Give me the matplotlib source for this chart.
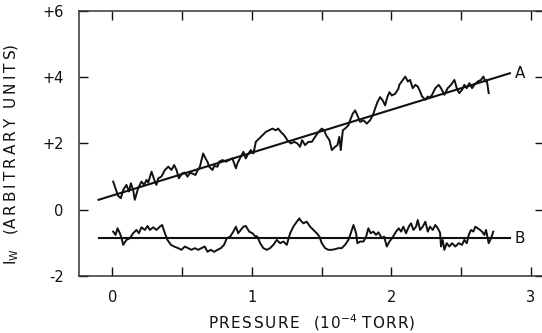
import numpy as np
import matplotlib
matplotlib.use("Agg")
import matplotlib.pyplot as plt

# trace A (pressure, signal)
a_x = [0.005, 0.04, 0.06, 0.077, 0.10, 0.118, 0.132, 0.148, 0.16, 0.184, 0.208, 0.227,
       0.244, 0.256, 0.28, 0.30, 0.315, 0.328, 0.351, 0.376, 0.40, 0.423, 0.442, 0.459,
       0.476, 0.50, 0.519, 0.538, 0.557, 0.578, 0.595, 0.609, 0.627, 0.65, 0.667, 0.681,
       0.693, 0.717, 0.729, 0.753, 0.765, 0.789, 0.813, 0.837, 0.86, 0.885, 0.896, 0.92,
       0.939, 0.956, 0.968, 0.992, 1.011, 1.028, 1.052, 1.075, 1.10, 1.123, 1.147, 1.171,
       1.188, 1.207, 1.231, 1.254, 1.279, 1.303, 1.326, 1.345, 1.36, 1.381, 1.405, 1.43,
       1.453, 1.477, 1.501, 1.518, 1.532, 1.556, 1.573, 1.596, 1.613, 1.627, 1.637, 1.652,
       1.668, 1.692, 1.704, 1.723, 1.74, 1.756, 1.776, 1.80, 1.824, 1.847, 1.867, 1.883,
       1.90, 1.919, 1.938, 1.955, 1.971, 1.986, 2.003, 2.027, 2.05, 2.057, 2.082, 2.10,
       2.118, 2.134, 2.153, 2.172, 2.189, 2.206, 2.22, 2.244, 2.261, 2.272, 2.292, 2.315,
       2.34, 2.356, 2.38, 2.404, 2.428, 2.452, 2.469, 2.487, 2.507, 2.523, 2.541, 2.559,
       2.579, 2.595, 2.619, 2.643, 2.66, 2.674, 2.684, 2.698]
a_y = [0.85, 0.42, 0.35, 0.60, 0.75, 0.55, 0.80, 0.60, 0.30, 0.65, 0.85, 0.75,
       0.90, 0.82, 1.15, 0.90, 0.75, 0.95, 1.00, 1.20, 1.30, 1.20, 1.35, 1.20,
       0.95, 1.10, 1.12, 1.00, 1.12, 1.08, 1.05, 1.18, 1.30, 1.70, 1.55, 1.45,
       1.30, 1.20, 1.32, 1.30, 1.45, 1.50, 1.45, 1.50, 1.55, 1.25, 1.40, 1.60,
       1.75, 1.55, 1.65, 1.80, 1.70, 2.05, 2.15, 2.25, 2.35, 2.40, 2.45, 2.40,
       2.45, 2.35, 2.25, 2.10, 2.00, 2.05, 2.00, 1.90, 2.10, 1.95, 2.05, 2.05,
       2.20, 2.35, 2.45, 2.40, 2.25, 2.10, 1.80, 1.90, 1.95, 2.20, 1.80, 2.40,
       2.45, 2.55, 2.70, 2.90, 3.00, 2.85, 2.65, 2.70, 2.60, 2.70, 2.85, 3.05,
       3.25, 3.40, 3.30, 3.15, 3.40, 3.55, 3.45, 3.50, 3.65, 3.77, 3.92, 4.02,
       3.87, 3.92, 3.67, 3.77, 3.72, 3.57, 3.42, 3.32, 3.42, 3.37, 3.47, 3.67,
       3.77, 3.67, 3.47, 3.67, 3.77, 3.92, 3.67, 3.52, 3.62, 3.77, 3.67, 3.82,
       3.67, 3.77, 3.87, 3.92, 4.02, 3.87, 3.92, 3.52]

# trace B
b_x = [0.005, 0.022, 0.036, 0.053, 0.065, 0.077, 0.10, 0.125, 0.148, 0.172, 0.189, 0.208,
       0.232, 0.251, 0.268, 0.292, 0.315, 0.34, 0.356, 0.376, 0.394, 0.419, 0.442, 0.471,
       0.495, 0.519, 0.543, 0.566, 0.591, 0.614, 0.638, 0.662, 0.681, 0.705, 0.729, 0.753,
       0.777, 0.80, 0.82, 0.844, 0.867, 0.885, 0.901, 0.92, 0.939, 0.956, 0.98, 1.004,
       1.021, 1.039, 1.059, 1.082, 1.107, 1.13, 1.154, 1.178, 1.202, 1.226, 1.25, 1.274,
       1.297, 1.322, 1.34, 1.346, 1.369, 1.393, 1.417, 1.441, 1.465, 1.484, 1.501, 1.525,
       1.548, 1.573, 1.596, 1.62, 1.644, 1.668, 1.692, 1.709, 1.728, 1.747, 1.756, 1.776,
       1.80, 1.819, 1.835, 1.852, 1.871, 1.89, 1.907, 1.931, 1.948, 1.967, 1.986, 2.005,
       2.027, 2.034, 2.053, 2.07, 2.086, 2.105, 2.125, 2.141, 2.158, 2.177, 2.189, 2.206,
       2.225, 2.244, 2.261, 2.277, 2.297, 2.315, 2.333, 2.349, 2.356, 2.368, 2.38, 2.397,
       2.416, 2.435, 2.459, 2.483, 2.507, 2.523, 2.541, 2.555, 2.571, 2.588, 2.602, 2.619,
       2.636, 2.65, 2.667, 2.679, 2.698, 2.715, 2.731]
b_y = [-0.66, -0.76, -0.56, -0.71, -0.86, -1.06, -0.91, -0.86, -0.71, -0.61, -0.71, -0.53,
       -0.61, -0.49, -0.61, -0.53, -0.61, -0.51, -0.46, -0.71, -0.91, -1.06, -1.11, -1.16,
       -1.21, -1.11, -1.16, -1.21, -1.16, -1.21, -1.16, -1.11, -1.27, -1.21, -1.27, -1.21,
       -1.16, -1.06, -0.86, -0.81, -0.66, -0.51, -0.71, -0.61, -0.51, -0.49, -0.66, -0.71,
       -0.79, -0.81, -1.01, -1.16, -1.21, -1.16, -1.06, -0.91, -1.01, -0.96, -1.06, -0.71,
       -0.51, -0.36, -0.26, -0.31, -0.41, -0.36, -0.51, -0.61, -0.71, -0.81, -1.01, -1.16,
       -1.21, -1.21, -1.19, -1.16, -1.16, -1.06, -0.91, -0.71, -0.46, -0.71, -1.01, -0.96,
       -0.96, -0.81, -0.56, -0.71, -0.66, -0.76, -0.68, -0.86, -0.81, -1.11, -0.96, -0.86,
       -0.71, -0.66, -0.56, -0.66, -0.51, -0.71, -0.51, -0.41, -0.61, -0.51, -0.31, -0.61,
       -0.51, -0.36, -0.66, -0.51, -0.61, -0.46, -0.56, -0.69, -1.11, -0.91, -1.21, -1.01,
       -1.11, -1.01, -1.11, -1.01, -1.06, -0.91, -1.01, -0.76, -0.61, -0.66, -0.51, -0.56,
       -0.61, -0.66, -0.76, -0.61, -1.01, -0.86, -0.66]

# straight lines drawn through the traces
fit_x = [-0.1, 2.85]
a_intercept, a_slope = 0.43, 1.295
b_level = -0.86

x_ticks = [0, 1, 2, 3]
x_ticklabels = ["0", "1", "2", "3"]
y_ticks = [-2, 0, 2, 4, 6]
y_ticklabels = ["-2", "0", "+2", "+4", "+6"]


def spaced(s, sep):
    # old lettering is wide, so open the letters up a bit
    return sep.join(s)


def main():
    plt.rcParams['font.family'] = ['DejaVu Sans']
    fig = plt.figure(figsize=(5.42, 3.33), dpi=100)
    # right spine sits just past the image edge, as in the scan
    ax = fig.add_axes([0.1458, 0.1712, 0.858, 0.7958])

    ink = '#111111'
    ax.plot(a_x, a_y, color=ink, lw=1.4)
    ax.plot(b_x, b_y, color=ink, lw=1.4)

    fx = np.array(fit_x)
    ax.plot(fx, a_intercept + a_slope * fx, color=ink, lw=1.5)
    ax.plot(fx, np.full_like(fx, b_level), color=ink, lw=1.5)

    ax.text(2.885, a_intercept + a_slope * fit_x[1], "A", ha='left', va='center',
            fontsize=11, color=ink)
    ax.text(2.885, b_level, "B", ha='left', va='center', fontsize=11, color=ink)

    ax.set_xlim(-0.24, 3.095)
    ax.set_ylim(-2, 6)

    ax.set_xticks(x_ticks)
    ax.set_xticklabels(x_ticklabels)
    ax.set_xticks(np.arange(0, 3.01, 0.5), minor=True)
    ax.set_yticks(y_ticks)
    ax.set_yticklabels(y_ticklabels)

    ax.tick_params(which='both', direction='in', top=True, right=True,
                   length=6.5, width=1.0, color=ink, labelsize=10.5, labelcolor=ink)
    ax.tick_params(axis='y', pad=11)
    ax.tick_params(axis='x', pad=10)

    for s in ax.spines.values():
        s.set_linewidth(1.1)
        s.set_color('#333333')

    hair = '\u200a'
    thin = '\u2009'
    xlab = spaced("PRESSURE", hair) + "   (" + spaced("10", hair) + "$^{-4}$ " \
        + spaced("TORR", hair) + ")"
    ylab = "I$_{\\mathrm{W}}$   (" + spaced("ARBITRARY", thin) + "  " \
        + spaced("UNITS", thin) + ")"
    ax.set_xlabel(xlab, fontsize=11, labelpad=5, color=ink)
    ax.set_ylabel(ylab, fontsize=11, color=ink)
    ax.yaxis.set_label_coords(-0.125, 0.46)

    fig.savefig("out.png", dpi=100)


if __name__ == '__main__':
    main()
